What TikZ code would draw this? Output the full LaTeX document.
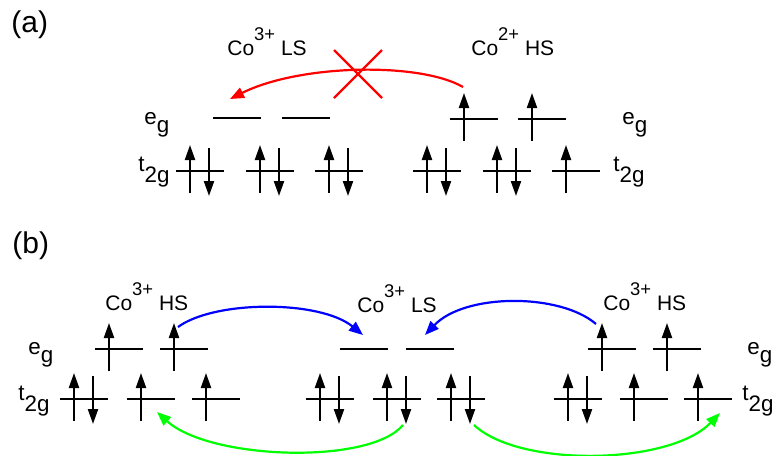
\documentclass[tikz,border=0pt]{standalone}
\usepackage{fontspec}
\setmainfont{Liberation Sans}
\usetikzlibrary{arrows.meta}

% one orbital: left end, level height, number of electrons
\newcommand{\orb}[3]{%
  \draw[levelline] (#1,#2) -- ++(48,0);
  \ifnum#3>0 \draw[spin] (#1+14,#2+22) -- (#1+14,#2-26);\fi
  \ifnum#3>1 \draw[spin] (#1+33,#2-23) -- (#1+33,#2+25);\fi}
\newcommand{\sups}[1]{\raisebox{.68em}{\fontsize{9.2}{10}\selectfont #1}}
\newcommand{\eg}{e\raisebox{-.4em}{g}}
\newcommand{\ttg}{t\raisebox{-.5em}{2g}}

\begin{document}
\begin{tikzpicture}[x=0.5pt,y=-0.5pt,
  levelline/.style={line width=0.9pt},
  spin/.style={line width=1.1pt,-{Triangle[length=7.5pt,width=5pt]}},
  hop/.style={line width=1.1pt,-{Triangle[length=7pt,width=5.5pt]}},
  lbl/.style={anchor=base west,inner sep=0pt,font=\fontsize{10.5}{12}\selectfont},
  orblbl/.style={anchor=base west,inner sep=0pt,font=\fontsize{11.2}{13}\selectfont},
  paneltag/.style={anchor=base west,inner sep=0pt,font=\fontsize{15}{17}\selectfont}]
  \useasboundingbox (0,0) rectangle (773,456);

  % (a)
  \node[paneltag] (a) at (11,32) {(a)};
  \node[lbl] (ls) at (227,55) {Co\sups{3+} LS};
  \node[lbl] (hs) at (471,55) {Co\sups{2+} HS};
  \node[orblbl] (egA) at (144,124) {\eg};
  \node[orblbl] (egB) at (622,124) {\eg};
  \node[orblbl] (tgA) at (138,171) {\ttg};
  \node[orblbl] (tgB) at (613,171) {\ttg};
  \orb{213}{118}{0} \orb{282}{118}{0}
  \orb{176}{171}{2} \orb{246}{171}{2} \orb{315}{171}{2}
  \orb{450}{119}{1} \orb{518}{119}{1}
  \orb{413}{171}{2} \orb{483}{171}{2} \orb{552}{171}{1}
  \coordinate (fromHS) at (463,87);
  \coordinate (toLS) at (230,99);
  \coordinate (cross) at (358,74);
  \draw[hop,red] (fromHS) .. controls (420,62) and (300,64) .. (toLS);
  \draw[red,line width=1.2pt] (cross) +(-24,-24) -- +(24,24) +(-24,24) -- +(24,-24);

  % (b)
  \node[paneltag] (b) at (12,253) {(b)};
  \node[lbl] (hsL) at (105,310) {Co\sups{3+} HS};
  \node[lbl] (lsM) at (357,312) {Co\sups{3+} LS};
  \node[lbl] (hsR) at (603,310) {Co\sups{3+} HS};
  \node[orblbl] (egL) at (28,354) {\eg};
  \node[orblbl] (egR) at (747,354) {\eg};
  \node[orblbl] (tgL) at (18,400) {\ttg};
  \node[orblbl] (tgR) at (742,400) {\ttg};
  \orb{95}{349}{1} \orb{160}{349}{1}
  \orb{60}{399}{2} \orb{127}{399}{1} \orb{192}{399}{1}
  \orb{340}{349}{0} \orb{406}{349}{0}
  \orb{306}{399}{2} \orb{373}{399}{2} \orb{437}{399}{2}
  \orb{588}{349}{1} \orb{653}{349}{1}
  \orb{554}{399}{2} \orb{620}{399}{1} \orb{684}{399}{1}
  \coordinate (egHSL) at (178,327);
  \coordinate (egHSR) at (596,324);
  \coordinate (egLSa) at (363,335);
  \coordinate (egLSb) at (425,335);
  \coordinate (tgLSa) at (403,425);
  \coordinate (tgLSb) at (474,425);
  \coordinate (tgHSL) at (157,412);
  \coordinate (tgHSR) at (720,413);
  \draw[hop,blue] (egHSL) .. controls (215,300) and (320,300) .. (egLSa);
  \draw[hop,blue] (egHSR) .. controls (560,293) and (465,293) .. (egLSb);
  \draw[hop,green] (tgLSa) .. controls (370,465) and (210,460) .. (tgHSL);
  \draw[hop,green] (tgLSb) .. controls (520,468) and (670,465) .. (tgHSR);
\end{tikzpicture}
\end{document}
